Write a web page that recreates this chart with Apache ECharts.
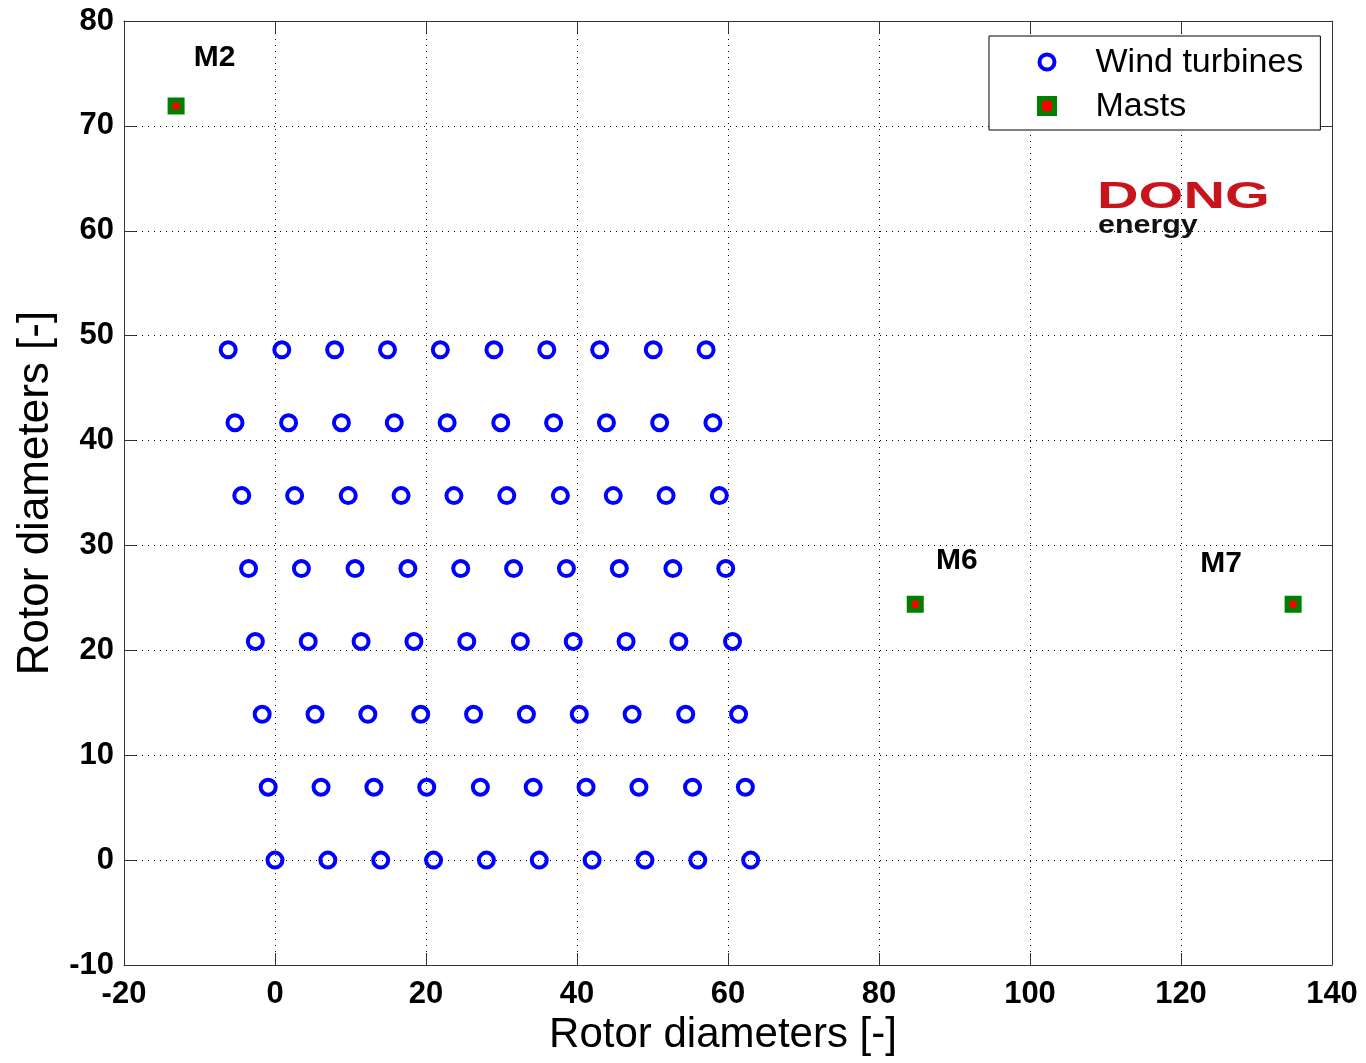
<!DOCTYPE html>
<html>
<head>
<meta charset="utf-8">
<script src="https://cdn.jsdelivr.net/npm/echarts@6/dist/echarts.min.js"></script>
<style>
html,body{margin:0;padding:0;background:#fff;}
#main{width:1366px;height:1063px;}
</style>
</head>
<body>
<div id="main"></div>
<script>
// ---- Data ----
var rowY = [0, 6.95, 13.9, 20.85, 27.8, 34.75, 41.7, 48.65];
var row0X = [0, 7, 14, 21, 28, 35, 42, 49, 56, 63];
var row1X = [-0.9, 6.1, 13.1, 20.1, 27.2, 34.2, 41.2, 48.2, 55.3, 62.3];
var row2X = [-1.7, 5.3, 12.3, 19.3, 26.3, 33.3, 40.3, 47.3, 54.4, 61.4];
var row3X = [-2.6, 4.4, 11.4, 18.4, 25.4, 32.5, 39.5, 46.5, 53.5, 60.6];
var row4X = [-3.5, 3.5, 10.6, 17.6, 24.6, 31.6, 38.6, 45.6, 52.7, 59.7];
var row5X = [-4.4, 2.6, 9.7, 16.7, 23.7, 30.7, 37.8, 44.8, 51.8, 58.85];
var row6X = [-5.3, 1.8, 8.8, 15.8, 22.8, 29.9, 36.9, 43.9, 50.95, 58.0];
var row7X = [-6.2, 0.9, 7.9, 14.9, 21.9, 29.0, 36.0, 43.0, 50.1, 57.1];
var rowsX = [row0X, row1X, row2X, row3X, row4X, row5X, row6X, row7X];

var mastNames = ['M2', 'M6', 'M7'];
var mastX = [-13.1, 84.8, 134.85];
var mastY = [71.9, 24.4, 24.4];
var mastLabelX = [-8, 90.3, 125.3];
var mastLabelY = [76.5, 28.5, 28.3];

var xMin = -20, xMax = 140, xStep = 20;
var yMin = -10, yMax = 80, yStep = 10;
var xTitle = 'Rotor diameters [-]';
var yTitle = 'Rotor diameters [-]';
var seriesNames = ['Wind turbines', 'Masts'];

// ---- Build series data ----
var turbineData = [];
rowsX.forEach(function (xs, r) {
  xs.forEach(function (x) { turbineData.push([x, rowY[r]]); });
});
var mastData = mastX.map(function (x, i) { return [x, mastY[i]]; });
var labelData = mastNames.map(function (n, i) {
  return { name: n, value: [mastLabelX[i], mastLabelY[i]] };
});

var FONT = '"Liberation Sans", Arial, sans-serif';
var axisColor = '#333';

function mkX(pos, main) {
  return {
    type: 'value', position: pos, min: xMin, max: xMax, interval: xStep,
    name: main ? xTitle : '', nameLocation: 'middle', nameGap: 48,
    nameTextStyle: { fontFamily: FONT, fontSize: 42, color: '#000', padding: [0, 10, 0, 0] },
    axisLine: { show: true, onZero: false, lineStyle: { color: axisColor, width: 1 } },
    axisTick: { show: true, inside: true, length: 12, lineStyle: { color: axisColor } },
    axisLabel: { show: main, margin: 14, fontFamily: FONT, fontSize: 31, fontWeight: 'bold', color: '#000' },
    splitLine: { show: main, lineStyle: { type: [1, 5], color: '#000', width: 1 } }
  };
}
function mkY(pos, main) {
  return {
    type: 'value', position: pos, min: yMin, max: yMax, interval: yStep,
    name: main ? yTitle : '', nameLocation: 'middle', nameGap: 66,
    nameTextStyle: { fontFamily: FONT, fontSize: 44, color: '#000' },
    axisLine: { show: true, onZero: false, lineStyle: { color: axisColor, width: 1 } },
    axisTick: { show: true, inside: true, length: 12, lineStyle: { color: axisColor } },
    axisLabel: { show: main, margin: 10, fontFamily: FONT, fontSize: 31, fontWeight: 'bold', color: '#000' },
    splitLine: { show: main, lineStyle: { type: [1, 5], color: '#000', width: 1 } }
  };
}

var option = {
  animation: false,
  backgroundColor: '#fff',
  grid: { left: 124, top: 21, right: 34, bottom: 98, containLabel: false },
  xAxis: [mkX('bottom', true), mkX('top', false)],
  yAxis: [mkY('left', true), mkY('right', false)],
  legend: {
    left: 989, top: 36, orient: 'vertical',
    backgroundColor: '#fff', borderColor: '#000', borderWidth: 1,
    padding: [8, 17, 6, 48],
    itemWidth: 15, itemHeight: 15, itemGap: 8,
    formatter: function (n) { return '{a|' + n + '}'; },
    textStyle: {
      rich: { a: { fontFamily: FONT, fontSize: 34, lineHeight: 32, color: '#000', padding: [2, 0, 0, 36] } }
    },
    data: [
      { name: seriesNames[0], icon: 'circle', itemStyle: { color: 'rgba(0,0,0,0)', borderColor: '#0000ff', borderWidth: 4 } },
      { name: seriesNames[1], icon: 'rect', itemStyle: { color: '#ff0000', borderColor: '#008000', borderWidth: 5 } }
    ]
  },
  graphic: [
    {
      type: 'text', left: 1097, top: 180, scaleX: 1.6, z: 100,
      style: { text: 'DONG', font: 'bold 36px ' + FONT, fill: '#c8141c' }
    },
    {
      type: 'text', left: 1098, top: 213, scaleX: 1.17, z: 100,
      style: { text: 'energy', font: 'bold 26px ' + FONT, fill: '#111' }
    }
  ],
  series: [
    {
      name: seriesNames[0], type: 'scatter', data: turbineData,
      symbol: 'circle', symbolSize: 15,
      itemStyle: { color: 'rgba(0,0,0,0)', borderColor: '#0000ff', borderWidth: 4, opacity: 1 },
      emphasis: { disabled: true }, z: 3
    },
    {
      name: seriesNames[1], type: 'scatter', data: mastData,
      symbol: 'rect', symbolSize: 12,
      itemStyle: { color: '#ff0000', borderColor: '#008000', borderWidth: 5, opacity: 1 },
      emphasis: { disabled: true }, z: 4
    },
    {
      name: 'labels', type: 'scatter', data: labelData,
      symbolSize: 2, itemStyle: { color: '#fff', opacity: 0 }, silent: true,
      label: {
        show: true, position: [1, 1], align: 'center', verticalAlign: 'middle',
        formatter: '{b}', opacity: 1,
        fontFamily: FONT, fontSize: 30, fontWeight: 'bold', color: '#000',
        textBorderWidth: 0
      },
      labelLayout: { hideOverlap: false },
      z: 5
    }
  ]
};

var chart = echarts.init(document.getElementById('main'), null, { renderer: 'canvas' });
chart.setOption(option);
</script>
</body>
</html>
